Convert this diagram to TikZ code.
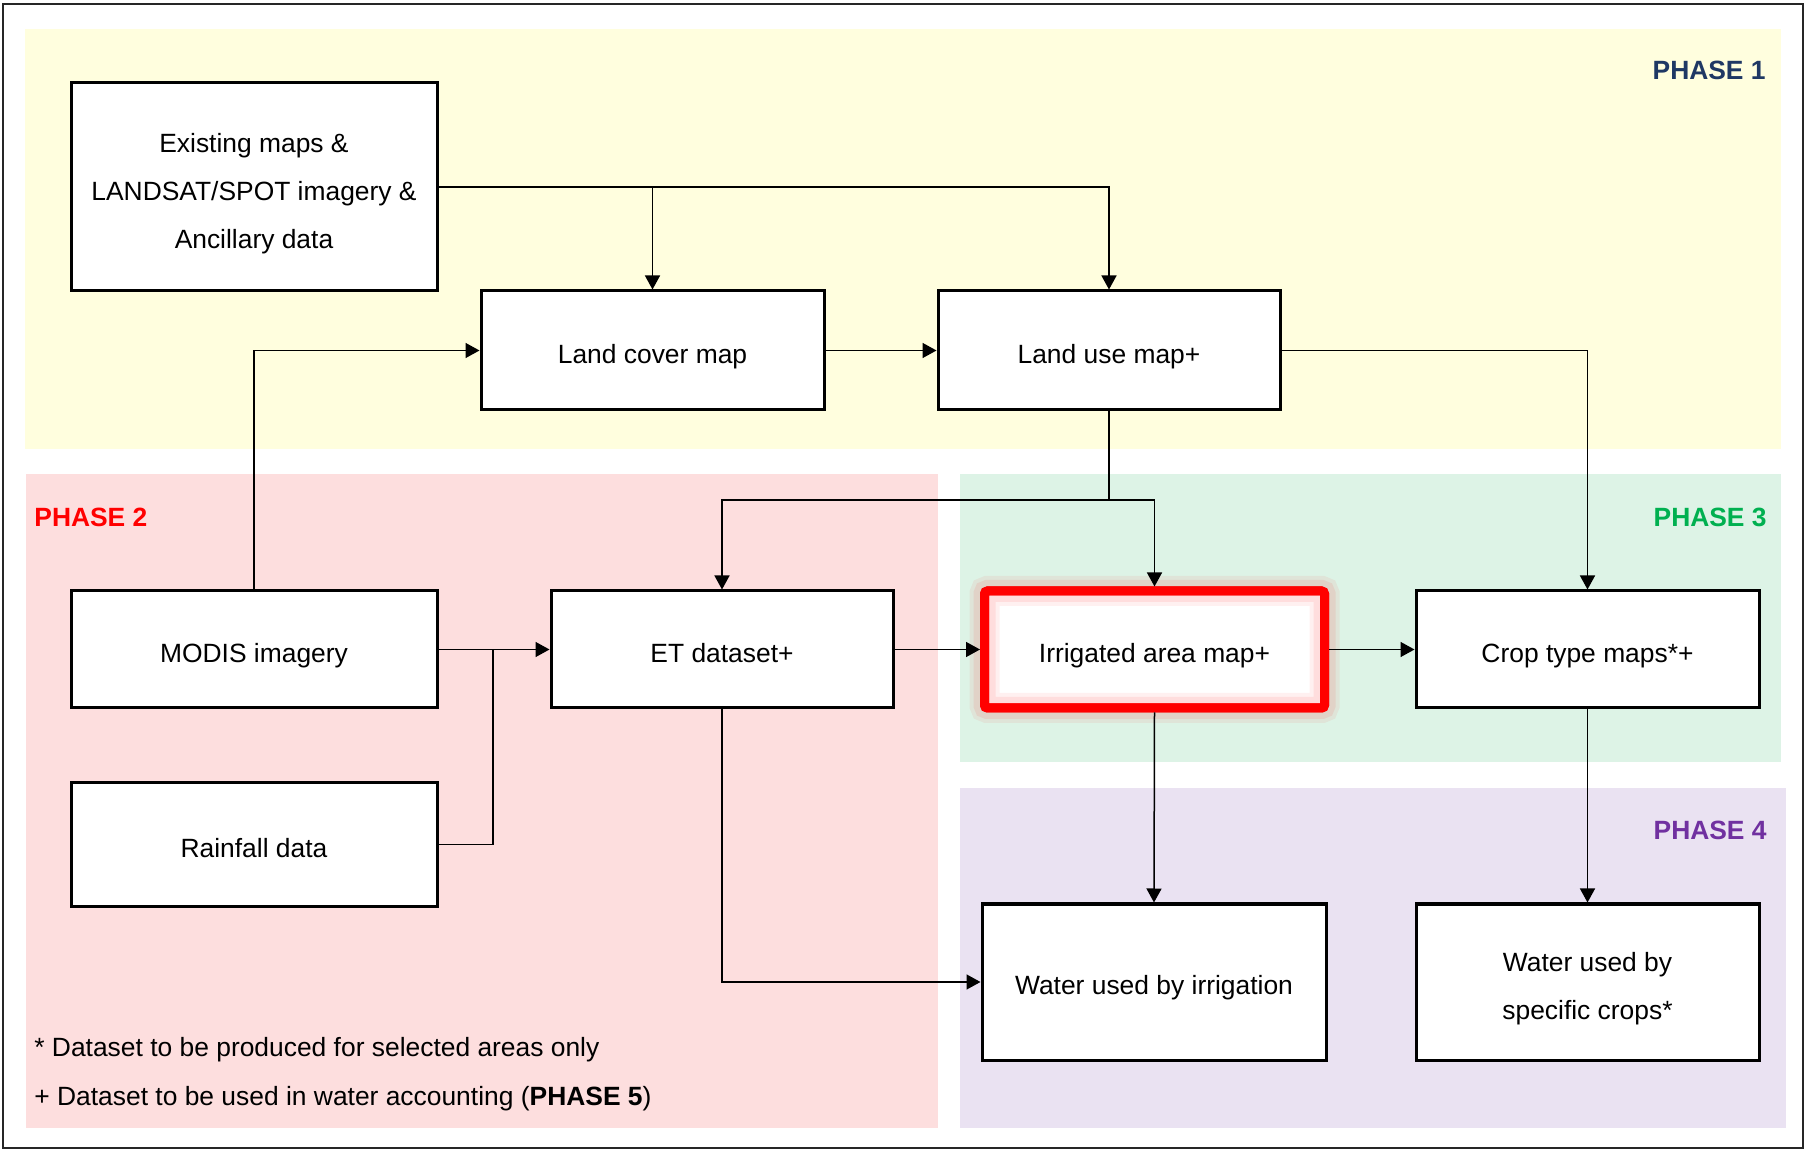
\documentclass[tikz,border=0pt]{standalone}
\usepackage{fontspec}
\setmainfont{Liberation Sans}
\usetikzlibrary{arrows.meta}
\definecolor{pyellow}{RGB}{255,254,222}
\definecolor{ppink}{RGB}{253,222,222}
\definecolor{pgreen}{RGB}{221,243,230}
\definecolor{ppurple}{RGB}{234,226,242}
\definecolor{lblone}{RGB}{31,56,100}
\definecolor{lblthree}{RGB}{0,176,80}
\definecolor{lblfour}{RGB}{112,48,160}
\newcommand{\lowerstrut}{\rule{0pt}{16pt}}
\tikzset{
  box/.style={draw=black, fill=white, line width=1.5pt, align=center,
    font=\fontsize{13.2}{24}\selectfont, inner sep=2pt, text height=12.9pt, text depth=0pt},
  mbox/.style={draw=black, fill=white, line width=1.5pt, align=center,
    font=\fontsize{13.2}{24}\selectfont, inner sep=2pt},
  redbox/.style={draw=red, fill=white, line width=4.5pt, rounded corners=1.5pt, align=center,
    font=\fontsize{13.2}{24}\selectfont, inner sep=2pt, text height=12.9pt, text depth=0pt,
    postaction={draw=red, draw opacity=0.06, line width=15pt},
    postaction={draw=red, draw opacity=0.08, line width=11pt},
    postaction={draw=red, line width=4.5pt}},
  arr/.style={line width=0.75pt, -{Triangle[length=7pt,width=7.5pt]}},
  conn/.style={line width=0.75pt},
  phaselbl/.style={font=\fontsize{13.2}{16}\selectfont\bfseries, inner sep=0pt},
  note/.style={font=\fontsize{13.2}{16}\selectfont, inner sep=0pt, anchor=base west}
}
\begin{document}
\begin{tikzpicture}[x=0.5pt,y=-0.5pt]
\useasboundingbox (0,0) rectangle (1806,1149);
% phase regions
\fill[pyellow] (25,29) rectangle (1781,449);
\fill[ppink] (26,474) rectangle (938,1128);
\fill[pgreen] (960,474) rectangle (1781,762);
\fill[ppurple] (960,788) rectangle (1786,1128);
\draw[black!85, line width=1pt] (3,4) rectangle (1803,1148);
% phase labels
\node[phaselbl, text=lblone, anchor=east] (p1) at (1766,70) {PHASE 1};
\node[phaselbl, text=red, anchor=west] (p2) at (34,517) {PHASE 2};
\node[phaselbl, text=lblthree, anchor=east] (p3) at (1767,517) {PHASE 3};
\node[phaselbl, text=lblfour, anchor=east] (p4) at (1767,830) {PHASE 4};
% boxes
\node[mbox, minimum width=183pt, minimum height=104pt] (ex) at (254,187) {\lowerstrut Existing maps \&\\LANDSAT/SPOT imagery \&\\Ancillary data};
\node[box, minimum width=171.5pt, minimum height=59.5pt] (lc) at (652.5,350.5) {Land cover map};
\node[box, minimum width=171pt, minimum height=59.5pt] (lu) at (1109,350.5) {Land use map+};
\node[box, minimum width=183pt, minimum height=58.5pt] (mod) at (254,649.5) {MODIS imagery};
\node[box, minimum width=183pt, minimum height=61.5pt] (rain) at (254,844.5) {Rainfall data};
\node[box, minimum width=171pt, minimum height=58.5pt] (et) at (722,649.5) {ET dataset+};
\node[redbox, minimum width=170pt, minimum height=58.5pt] (irr) at (1154.5,649.5) {Irrigated area map+};
\node[box, minimum width=171.5pt, minimum height=58.5pt] (crop) at (1587.5,649.5) {Crop type maps*+};
\node[box, minimum width=172pt, minimum height=78pt] (wirr) at (1154,982) {Water used by irrigation};
\node[mbox, minimum width=171.5pt, minimum height=78pt] (wcrop) at (1587.5,982) {\lowerstrut Water used by\\specific crops*};
% notes
\node[note] (n1) at (34,1056) {* Dataset to be produced for selected areas only};
\node[note] (n2) at (34,1105) {+ Dataset to be used in water accounting (\textbf{PHASE 5})};
% connectors
\draw[arr] (ex.east) -| (lc.north);
\draw[arr] (ex.east) -| (lu.north);
\draw[arr] (mod.north) |- (lc.west);
\draw[arr] (lc.east) -- (lu.west);
\draw[arr] (lu.east) -| (crop.north);
\coordinate (split) at (1109,500);
\draw[conn] (lu.south) -- (split);
\draw[arr] (split) -| (et.north);
\draw[arr] (split) -| (irr.north);
\draw[arr] (mod.east) -- (et.west);
\coordinate (join) at (493,649.5);
\draw[conn] (rain.east) -| (join);
\draw[arr] (et.east) -- (irr.west);
\draw[arr] (irr.east) -- (crop.west);
\draw[arr] (irr.south) -- (wirr.north);
\draw[arr] (crop.south) -- (wcrop.north);
\draw[arr] (et.south) |- (wirr.west);
\end{tikzpicture}
\end{document}
